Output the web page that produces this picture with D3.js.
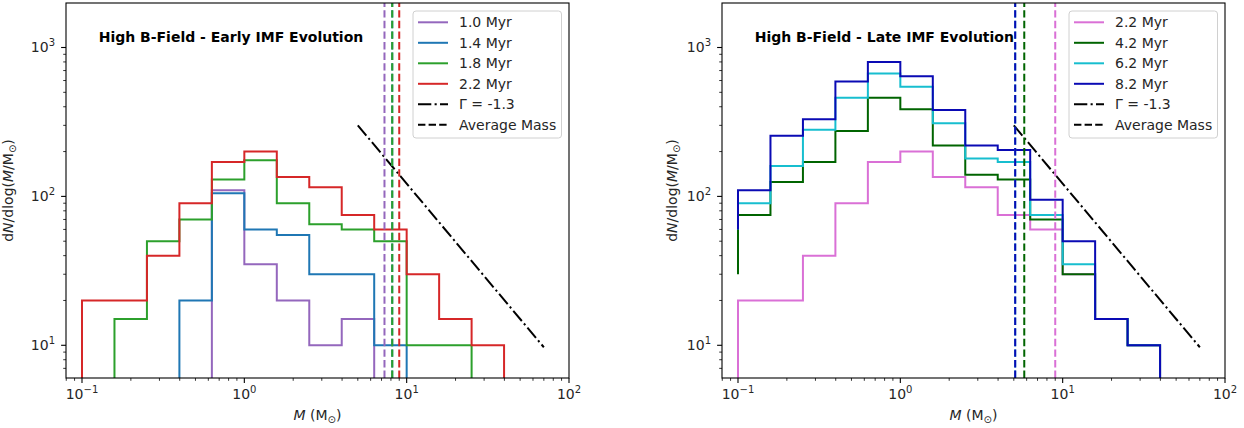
<!DOCTYPE html>
<meta charset="utf-8">
<style>
body { margin: 0; background: #fff; }
text { font-family: "DejaVu Sans", sans-serif; }
</style>
<svg width="1244" height="428"></svg>
<script src="https://cdn.jsdelivr.net/npm/d3@7/dist/d3.min.js"></script>
<script>

// bin edges (0.2 dex, M in Msun)
var edges = [0.1, 0.1585, 0.2512, 0.3981, 0.631, 1.0, 1.585, 2.512, 3.981, 6.31, 10, 15.85, 25.12, 39.81];

// early panel: dN/dlogM per bin, starting at edges[start]
var earlyLabels = ["1.0 Myr", "1.4 Myr", "1.8 Myr", "2.2 Myr"];
var earlyStart = [4, 3, 1, 0];
var early10 = [110, 35, 20, 10, 15];
var early14 = [20, 105, 60, 55, 30, 30, 10];
var early18 = [15, 50, 70, 130, 175, 90, 65, 60, 50, 10, 10];
var early22 = [20, 20, 40, 90, 170, 200, 135, 115, 75, 60, 30, 15, 10];
var earlyAvg = [7.3, 8.15, 8.15, 9.0];
var earlyColors = ["#9467bd", "#1f77b4", "#2ca02c", "#d62728"];

// late panel
var lateLabels = ["2.2 Myr", "4.2 Myr", "6.2 Myr", "8.2 Myr"];
var lateStart = [0, 0, 0, 0];
var lateFloor = [null, 30, 60, 60];   // where the first vertical edge starts
var late22 = [20, 20, 40, 90, 170, 200, 135, 115, 75, 60, 30, 15, 10];
var late42 = [75, 125, 170, 275, 460, 385, 220, 140, 130, 70, 30, 15, 10];
var late62 = [90, 160, 280, 460, 670, 545, 310, 180, 170, 75, 35, 15, 10];
var late82 = [110, 255, 330, 590, 800, 640, 380, 220, 205, 95, 50, 15, 10];
var lateAvg = [9.0, 5.8, 5.1, 5.1];
var lateColors = ["#da70d6", "#006400", "#17becf", "#0a0ab4"];

// Gamma = -1.3 reference line endpoints
var gammaM = [5, 70];
var gammaN = [300, 9.7];

var xTicks = [0.1, 1, 10, 100], xExp = ["\u22121", "0", "1", "2"];
var yTicks = [10, 100, 1000], yExp = ["1", "2", "3"];

var svg = d3.select("svg");

function panel(x0, name, title, labels, starts, floors, series, avgs, colors, ylOff) {
  var W = 503, top = 3, bot = 378;
  var x = d3.scaleLog().domain([0.0797, 100]).range([x0, x0 + W]);
  var y = d3.scaleLog().domain([6.03, 1990]).range([bot, top]);
  var g = svg.append("g");

  g.append("clipPath").attr("id", "clip" + name)
    .append("rect").attr("x", x0).attr("y", top).attr("width", W).attr("height", bot - top);

  var plot = g.append("g").attr("clip-path", "url(#clip" + name + ")");
  var line = d3.line().x(function(d) { return x(d[0]); }).y(function(d) { return y(d[1]); });

  // step histograms
  series.forEach(function(vals, i) {
    var s = starts[i];
    var f = floors && floors[i] != null ? floors[i] : 1;
    var pts = [[edges[s], f]];
    vals.forEach(function(v, k) {
      pts.push([edges[s + k], v]);
      pts.push([edges[s + k + 1], v]);
    });
    pts.push([edges[s + vals.length], 1]);
    plot.append("path").attr("d", line(pts))
      .attr("fill", "none").attr("stroke", colors[i]).attr("stroke-width", 2)
      .attr("stroke-linejoin", "miter");
  });

  // gamma line
  plot.append("path").attr("d", line([[gammaM[0], gammaN[0]], [gammaM[1], gammaN[1]]]))
    .attr("fill", "none").attr("stroke", "#000").attr("stroke-width", 2)
    .attr("stroke-dasharray", "13.3,3.3,2.1,3.3");

  // average masses
  avgs.forEach(function(m, i) {
    plot.append("line").attr("x1", x(m)).attr("x2", x(m)).attr("y1", bot).attr("y2", top)
      .attr("stroke", colors[i]).attr("stroke-width", 2).attr("stroke-dasharray", "7.4,3.2");
  });

  // spines
  g.append("rect").attr("x", x0).attr("y", top).attr("width", W).attr("height", bot - top)
    .attr("fill", "none").attr("stroke", "#000").attr("stroke-width", 1.1);

  // x ticks
  var minorX = [];
  [0.01, 0.1, 1, 10].forEach(function(d) {
    for (var k = 2; k <= 9; k++) {
      var v = d * k;
      if (v >= 0.0797 && v <= 100) minorX.push(v);
    }
  });
  minorX.forEach(function(v) {
    g.append("line").attr("x1", x(v)).attr("x2", x(v)).attr("y1", bot).attr("y2", bot + 2.8)
      .attr("stroke", "#000").attr("stroke-width", 0.8);
  });
  xTicks.forEach(function(v, i) {
    g.append("line").attr("x1", x(v)).attr("x2", x(v)).attr("y1", bot).attr("y2", bot + 4.9)
      .attr("stroke", "#000").attr("stroke-width", 1.1);
    var t = g.append("text").attr("x", x(v)).attr("y", 399).attr("text-anchor", "middle")
      .attr("font-size", 14).attr("fill", "#262626").text("10");
    t.append("tspan").attr("dy", -6).attr("font-size", 10).text(xExp[i]);
  });

  // y ticks
  var minorY = [];
  [1, 10, 100, 1000].forEach(function(d) {
    for (var k = 2; k <= 9; k++) {
      var v = d * k;
      if (v >= 6.03 && v <= 1990) minorY.push(v);
    }
  });
  minorY.forEach(function(v) {
    g.append("line").attr("x1", x0).attr("x2", x0 - 2.8).attr("y1", y(v)).attr("y2", y(v))
      .attr("stroke", "#000").attr("stroke-width", 0.8);
  });
  yTicks.forEach(function(v, i) {
    g.append("line").attr("x1", x0).attr("x2", x0 - 4.9).attr("y1", y(v)).attr("y2", y(v))
      .attr("stroke", "#000").attr("stroke-width", 1.1);
    var t = g.append("text").attr("x", x0 - 11).attr("y", y(v) + 5).attr("text-anchor", "end")
      .attr("font-size", 14).attr("fill", "#262626").text("10");
    t.append("tspan").attr("dy", -6).attr("font-size", 10).text(yExp[i]);
  });

  // axis labels
  var xl = g.append("text").attr("x", x0 + W / 2).attr("y", 420).attr("text-anchor", "middle")
    .attr("font-size", 14).attr("fill", "#262626");
  xl.append("tspan").attr("font-style", "italic").text("M");
  xl.append("tspan").text(" (M");
  xl.append("tspan").attr("font-size", 10).attr("dy", 3).text("\u2299");
  xl.append("tspan").attr("dy", -3).text(")");

  var yl = g.append("text").attr("transform", "translate(" + (x0 - ylOff) + "," + ((top + bot) / 2) + ") rotate(-90)")
    .attr("text-anchor", "middle").attr("font-size", 14).attr("fill", "#262626");
  yl.append("tspan").text("d");
  yl.append("tspan").attr("font-style", "italic").text("N");
  yl.append("tspan").text("/dlog(");
  yl.append("tspan").attr("font-style", "italic").text("M");
  yl.append("tspan").text("/M");
  yl.append("tspan").attr("font-size", 10).attr("dy", 3).text("\u2299");
  yl.append("tspan").attr("dy", -3).text(")");

  // title
  g.append("text").attr("x", x0 + 32.7).attr("y", 42).attr("font-size", 14)
    .attr("font-weight", "bold").attr("fill", "#000").text(title);

  // legend
  var lx = x0 + W - 156, ly = 11;
  var leg = g.append("g");
  leg.append("rect").attr("x", lx).attr("y", ly).attr("width", 148.5).attr("height", 127)
    .attr("rx", 3).attr("fill", "#fff").attr("fill-opacity", 0.8)
    .attr("stroke", "#d0d0d0").attr("stroke-width", 1);
  var items = labels.map(function(l, i) { return { label: l, color: colors[i], dash: null }; });
  items.push({ label: "\u0393 = -1.3", color: "#000", dash: "13.3,3.3,2.1,3.3" });
  items.push({ label: "Average Mass", color: "#000", dash: "7.4,3.2" });
  items.forEach(function(it, i) {
    var cy = 22.3 + i * 20.5;
    leg.append("line").attr("x1", lx + 5).attr("x2", lx + 35).attr("y1", cy).attr("y2", cy)
      .attr("stroke", it.color).attr("stroke-width", 2)
      .attr("stroke-dasharray", it.dash);
    leg.append("text").attr("x", lx + 46).attr("y", cy + 5).attr("font-size", 14)
      .attr("fill", "#262626").text(it.label);
  });
}

panel(66, "a", "High B-Field - Early IMF Evolution", earlyLabels, earlyStart, null,
  [early10, early14, early18, early22], earlyAvg, earlyColors, 53);
panel(722, "b", "High B-Field - Late IMF Evolution", lateLabels, lateStart, lateFloor,
  [late22, late42, late62, late82], lateAvg, lateColors, 45);

</script>
